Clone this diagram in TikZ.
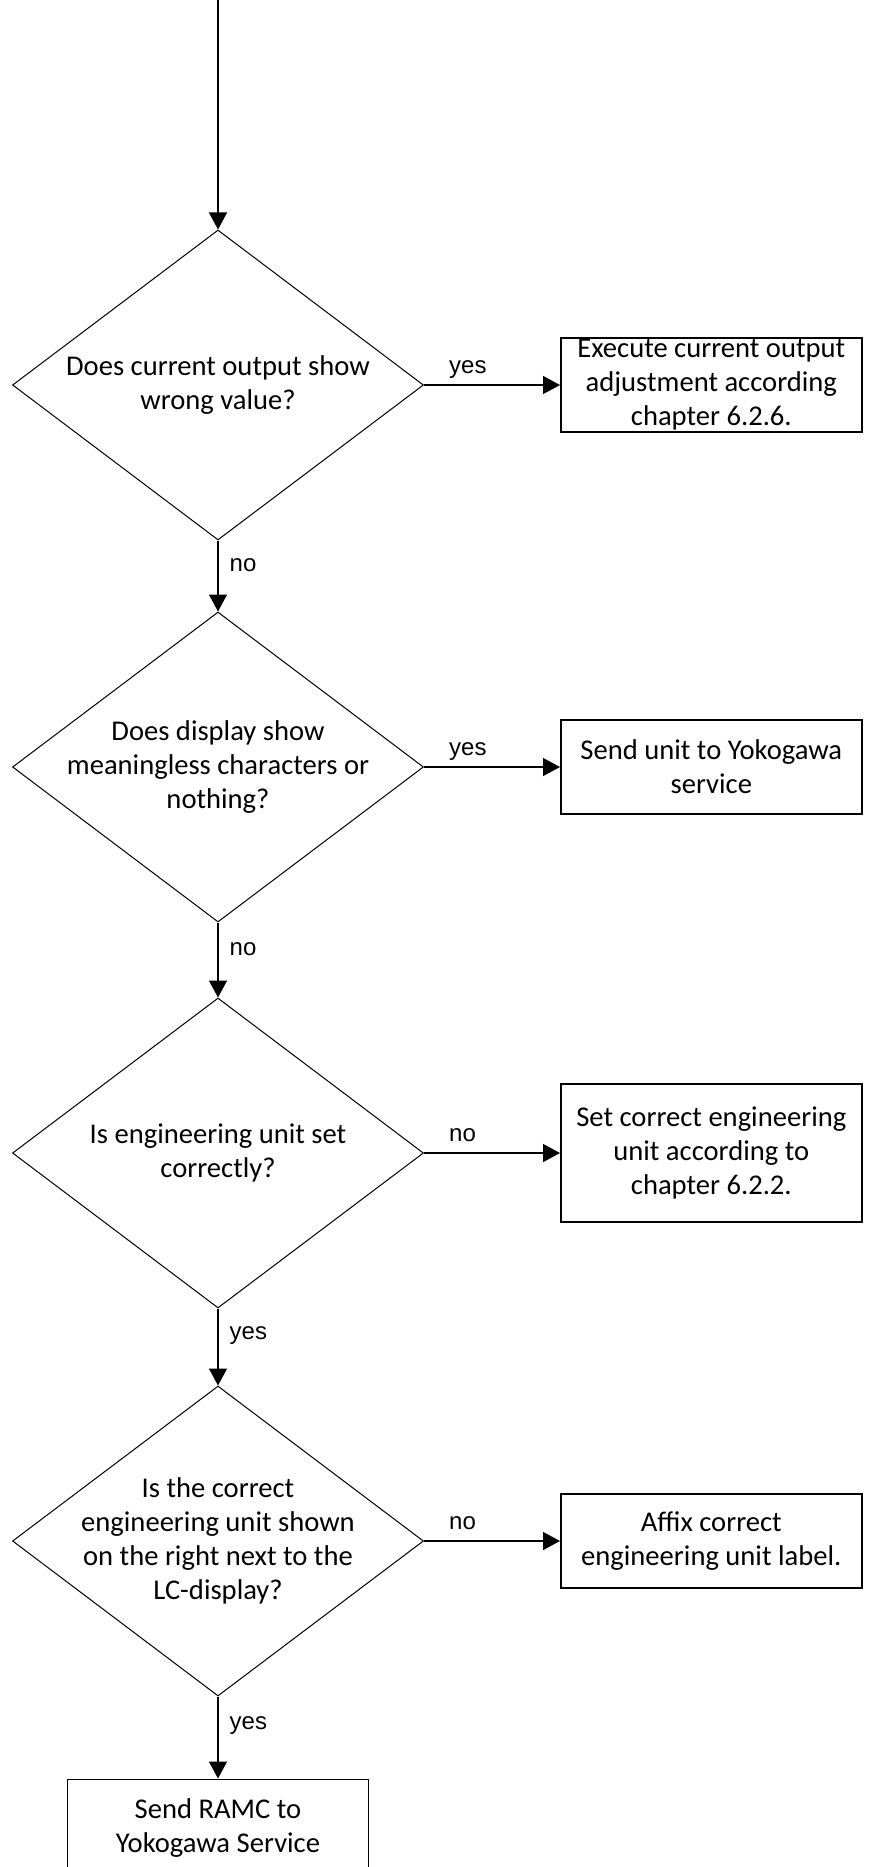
\documentclass[tikz,border=0pt]{standalone}
\usepackage{fontspec}
\setmainfont{Carlito}
\newfontfamily\lblfont{Liberation Sans}
\usetikzlibrary{shapes.geometric,positioning,arrows.meta}

\begin{document}
\begin{tikzpicture}[x=0.5pt,y=-0.5pt,node distance=68pt,
	decision/.style = {diamond,draw,line width=0.5pt,aspect=1.326,inner sep=-8pt,
		minimum width=205.5pt,minimum height=155pt,align=center,
		font=\fontsize{14.3pt}{17pt}\selectfont},
	process/.style = {rectangle,draw,line width=0.8pt,inner sep=0pt,
		minimum width=150.5pt,minimum height=47pt,align=center,
		font=\fontsize{14.3pt}{17pt}\selectfont},
	flow/.style = {-{Triangle[length=8.5pt,width=9pt]},line width=0.7pt},
	lbl/.style = {font=\lblfont\fontsize{12pt}{14pt}\selectfont,inner sep=0pt}]
	
	\useasboundingbox (0,0) rectangle (873,1867);
	
	\node[decision] (q1) at (218,385) {Does current output show\\wrong value?};
	\node[decision] (q2) at (218,767) {Does display show\\meaningless characters or\\nothing?};
	\node[decision] (q3) at (218,1153) {Is engineering unit set\\correctly?};
	\node[decision] (q4) at (218,1541) {Is the correct\\engineering unit shown\\on the right next to the\\LC-display?};
	
	\node[process,right=of q1] (a1) {Execute current output\\adjustment according\\chapter 6.2.6.};
	\node[process,right=of q2] (a2) {Send unit to Yokogawa\\service};
	\node[process,right=of q3,minimum height=69pt] (a3) {Set correct engineering\\unit according to\\chapter 6.2.2.};
	\node[process,right=of q4] (a4) {Affix correct\\engineering unit label.};
	\node[process,below=41pt of q4,minimum height=49pt] (a5) {Send RAMC to\\Yokogawa Service};
	
	\coordinate (start) at (218,0);
	
	\draw[flow] (start) -- (q1);
	\draw[flow] (q1) -- node[lbl,pos=0.18,anchor=base west,yshift=6pt] {yes} (a1);
	\draw[flow] (q1) -- node[lbl,pos=0.35,anchor=west,xshift=5.5pt] {no} (q2);
	\draw[flow] (q2) -- node[lbl,pos=0.18,anchor=base west,yshift=6pt] {yes} (a2);
	\draw[flow] (q2) -- node[lbl,pos=0.35,anchor=west,xshift=5.5pt] {no} (q3);
	\draw[flow] (q3) -- node[lbl,pos=0.18,anchor=base west,yshift=6pt] {no} (a3);
	\draw[flow] (q3) -- node[lbl,pos=0.35,anchor=west,xshift=5.5pt] {yes} (q4);
	\draw[flow] (q4) -- node[lbl,pos=0.18,anchor=base west,yshift=6pt] {no} (a4);
	\draw[flow] (q4) -- node[lbl,pos=0.35,anchor=west,xshift=5.5pt] {yes} (a5);
	
\end{tikzpicture}
\end{document}
